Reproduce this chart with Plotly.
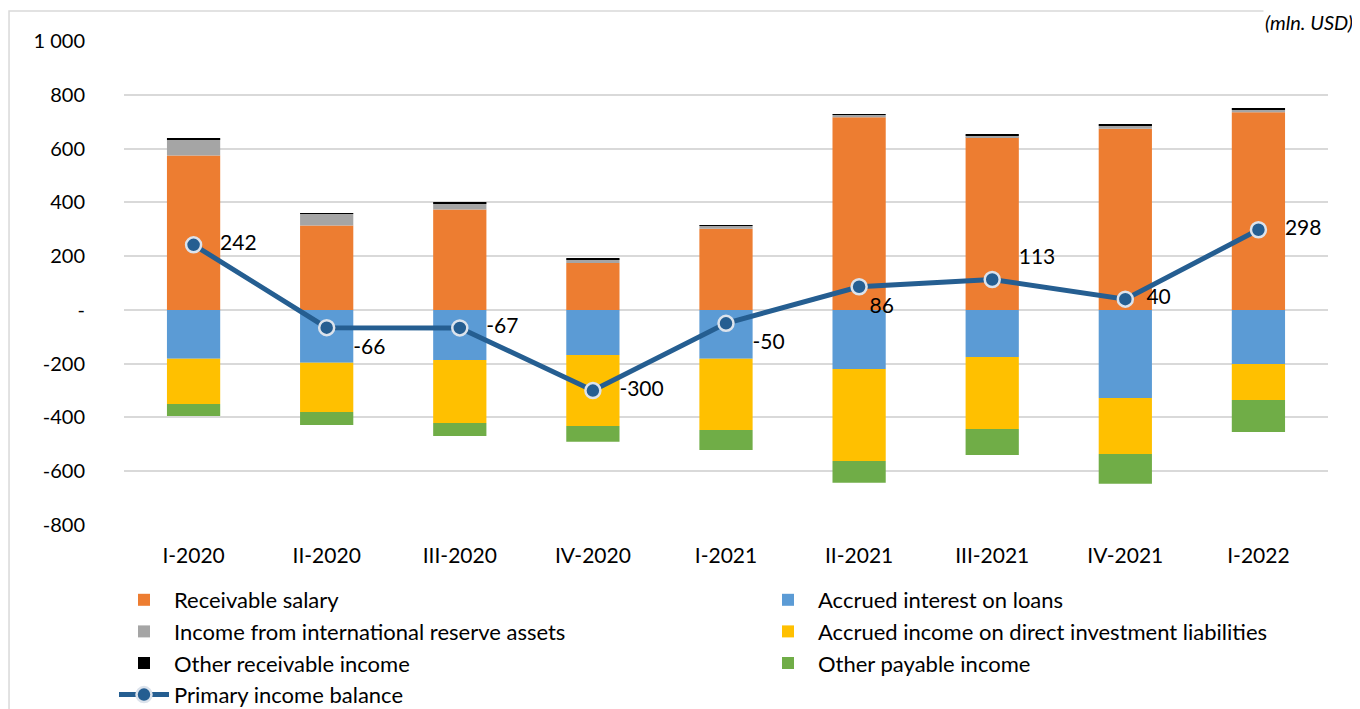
import plotly.graph_objects as go

categories = ["I-2020", "II-2020", "III-2020", "IV-2020", "I-2021", "II-2021", "III-2021", "IV-2021", "I-2022"]
receivable_salary = [574, 314, 373, 174, 302, 716, 642, 674, 735]
accrued_interest_loans = [-182, -197, -186, -168, -182, -220, -175, -328, -201]
income_reserve_assets = [59, 43, 22, 13, 10, 9, 7, 11, 9]
accrued_income_fdi = [-168, -183, -235, -264, -265, -342, -268, -208, -134]
other_receivable_income = [3, 3, 3, 3, 3, 3, 3, 3, 6]
other_payable_income = [-45, -48, -48, -58, -74, -81, -97, -111, -119]
primary_income_balance = [242, -66, -67, -300, -50, 86, 113, 40, 298]
label_positions = ["middle right", "bottom right", "middle right", "middle right", "bottom right",
                   "bottom right", "top right", "middle right", "middle right"]
label_pad = [3, 3, 3, 3, 3, 0, 3, 2, 3]

y_tickvals = [1000, 800, 600, 400, 200, 0, -200, -400, -600, -800]
y_ticktext = ["1 000", "800", "600", "400", "200", "-", "-200", "-400", "-600", "-800"]

FONT = "Lato"
# browser body margin of 8px is compensated: figure is 1352x701 drawn at (8, 8)
W, H = 1352, 701

fig = go.Figure()
bar_specs = [
    ("Receivable salary", receivable_salary, "#ED7D31", "legend"),
    ("Accrued interest on loans", accrued_interest_loans, "#5B9BD5", "legend2"),
    ("Income from international reserve assets", income_reserve_assets, "#A5A5A5", "legend"),
    ("Accrued income on direct investment liabilities", accrued_income_fdi, "#FFC000", "legend2"),
    ("Other receivable income", other_receivable_income, "#000000", "legend"),
    ("Other payable income", other_payable_income, "#70AD47", "legend2"),
]
for name, vals, col, lg in bar_specs:
    fig.add_trace(go.Bar(x=categories, y=vals, name=name, legend=lg,
                         marker=dict(color=col, line=dict(width=0)), width=0.4))

fig.add_trace(go.Scatter(
    x=categories, y=primary_income_balance, name="Primary income balance", legend="legend",
    mode="lines+markers+text",
    line=dict(color="#255E91", width=5),
    marker=dict(size=15, color="#255E91", line=dict(color="#DCE3EC", width=2.5)),
    text=["\u00a0" * p + str(v) for v, p in zip(primary_income_balance, label_pad)],
    textposition=label_positions,
    textfont=dict(size=21, color="#000000", family=FONT),
))

legend_common = dict(orientation="v", xref="container", yref="container", xanchor="left",
                     yanchor="top", itemwidth=50, font=dict(size=22, family=FONT),
                     traceorder="normal", bgcolor="rgba(0,0,0,0)")
fig.update_layout(
    width=W, height=H,
    barmode="relative",
    plot_bgcolor="white", paper_bgcolor="white",
    margin=dict(l=116, r=32, t=33, b=184, autoexpand=False),
    font=dict(family=FONT, size=19, color="#000000"),
    showlegend=True,
    legend=dict(x=106 / W, y=1 - 571 / H, **legend_common),
    legend2=dict(x=750 / W, y=1 - 571 / H, **legend_common),
    shapes=[dict(type="rect", xref="paper", yref="paper", x0=-0.0955, x1=1.0224, y0=-0.5, y1=1.062,
                 line=dict(color="#D9D9D9", width=1.5), fillcolor="rgba(0,0,0,0)", layer="below")],
    annotations=[dict(text="<i>(mln. USD)</i>", xref="paper", yref="paper", x=1.0224, y=1.068,
                      xanchor="right", yanchor="top", showarrow=False, bgcolor="white",
                      font=dict(size=20, family=FONT))],
)
fig.update_xaxes(showgrid=False, showline=False, ticks="", ticklabelstandoff=16,
                 tickfont=dict(size=21))
fig.update_yaxes(range=[-800, 1000], tickvals=y_tickvals, ticktext=y_ticktext,
                 showgrid=True, gridcolor="#D9D9D9", gridwidth=1.5,
                 zeroline=True, zerolinecolor="#D9D9D9", zerolinewidth=1.5,
                 ticks="", ticklabelstandoff=38, tickfont=dict(size=20))

fig.write_html("out.html")
